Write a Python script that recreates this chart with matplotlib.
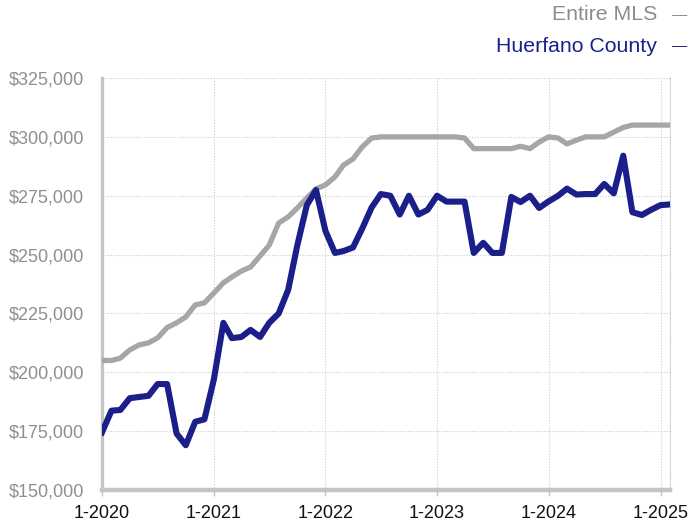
import numpy as np
import pandas as pd
import matplotlib
matplotlib.use("Agg")
import matplotlib.pyplot as plt
from matplotlib.ticker import FuncFormatter

plt.rcParams['font.family'] = ['Liberation Sans', 'DejaVu Sans']

# monthly median price, Jan 2020 .. Feb 2025
months = pd.date_range('2020-01-01', periods=62, freq='MS')

entire_mls = [
    205000, 205000, 206000, 209500, 211600, 212500, 214600, 219000, 221000, 223500, 228600, 229500,
    233700, 238000, 240500, 243000, 244700, 249400, 254000, 263400, 266000, 269800, 274000, 277900,
    279600, 283000, 288000, 290600, 295700, 299500, 300000, 300000, 300000, 300000, 300000, 300000,
    300000, 300000, 300000, 299500, 295000, 295000, 295000, 295000, 295000, 296000, 295000, 297800,
    300000, 299500, 297000, 298600, 300000, 300000, 300000, 302000, 304000, 305000, 305000, 305000,
    305000, 305000,
]

huerfano = [
    174500, 183700, 184000, 189000, 189500, 190000, 195000, 195000, 174000, 169000, 179000, 180000,
    197000, 221000, 214500, 215000, 218000, 215000, 221000, 225000, 235000, 254000, 271000, 277400,
    260000, 250700, 251500, 253000, 261000, 270000, 275700, 275000, 267000, 275000, 267000, 269000,
    275000, 272500, 272500, 272500, 250700, 255000, 250700, 250700, 274500, 272300, 275000, 269800,
    272600, 275000, 278000, 275500, 275700, 275700, 280000, 276000, 292000, 268000, 266800, 269000,
    271000, 271300,
]

year_ticks = pd.date_range('2020-01-01', '2025-01-01', freq='YS')
year_labels = ['1-%d' % d.year for d in year_ticks]

gray = '#a6a6a6'
navy = '#1b1f8a'

fig = plt.figure(figsize=(6.9, 5.25), dpi=100)
ax = fig.add_axes([102 / 690, 1 - 490 / 525, 568 / 690, 412 / 525])

ax.plot(months, entire_mls, color=gray, lw=3.8, solid_joinstyle='round', zorder=3)
ax.plot(months, huerfano, color=navy, lw=4.4, solid_joinstyle='round', zorder=4)

ax.set_xlim(months[0], months[-1])
ax.set_ylim(150000, 325000)
ax.set_yticks(np.arange(150000, 325001, 25000))
ax.yaxis.set_major_formatter(FuncFormatter(lambda v, p: '${:,.0f}'.format(v)))
ax.set_xticks(year_ticks)
ax.set_xticklabels(year_labels)

ax.grid(True, color='#cccccc', linestyle=(0, (1, 1.5)), linewidth=0.8, zorder=0)
ax.spines['top'].set_visible(False)
ax.spines['right'].set_linestyle((0, (1, 1.5)))
ax.spines['right'].set_color('#cccccc')
ax.spines['right'].set_linewidth(0.8)
ax.spines['left'].set_color('#c4c4c4')
ax.spines['left'].set_linewidth(2.4)
ax.spines['bottom'].set_color('#c4c4c4')
ax.spines['bottom'].set_linewidth(3.2)

ax.tick_params(axis='y', length=0, pad=13, labelsize=13, labelcolor='#8f8f8f')
ax.tick_params(axis='x', length=4, width=1, color='#c4c4c4', pad=7, labelsize=13, labelcolor='#111111')

# legend in the upper right corner
fig.text(657 / 690, 1 - 15 / 525, 'Entire MLS', ha='right', va='center', fontsize=15.3, color='#8c8c8c')
fig.text(672 / 690, 1 - 15 / 525, '\u2014', ha='left', va='center', fontsize=11, color='#8c8c8c')
fig.text(657 / 690, 1 - 46 / 525, 'Huerfano County', ha='right', va='center', fontsize=15.3, color=navy)
fig.text(672 / 690, 1 - 46 / 525, '\u2014', ha='left', va='center', fontsize=11, color=navy)

fig.savefig('out.png', dpi=100)
